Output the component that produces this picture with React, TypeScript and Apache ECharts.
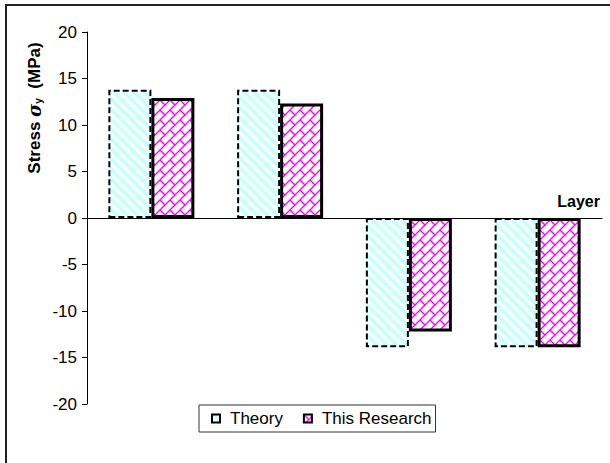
import React, { useEffect, useRef } from "react";
import * as echarts from "echarts";

const layers = ["Layer 1", "Layer 2", "Layer 3", "Layer 4"];
const theoryValues = [13.8, 13.8, -13.9, -13.9];
const researchValues = [12.9, 12.3, -12.2, -13.9];
const yMin = -20;
const yMax = 20;
const yStep = 5;

const FONT = '"Liberation Sans", Arial, sans-serif';
const TILE = 10;

function makeStripe(): HTMLCanvasElement {
  const c = document.createElement("canvas");
  c.width = TILE;
  c.height = TILE;
  const ctx = c.getContext("2d")!;
  ctx.fillStyle = "#ffffff";
  ctx.fillRect(0, 0, TILE, TILE);
  ctx.fillStyle = "#c8ffff";
  for (let y = 0; y < TILE; y++) {
    for (let x = 0; x < TILE; x++) {
      if ((((x - y) % TILE) + TILE) % TILE < 5) ctx.fillRect(x, y, 1, 1);
    }
  }
  return c;
}

function makeBrick(): HTMLCanvasElement {
  const t = TILE;
  const h = t / 2;
  const c = document.createElement("canvas");
  c.width = t;
  c.height = t;
  const ctx = c.getContext("2d")!;
  ctx.fillStyle = "#ffffff";
  ctx.fillRect(0, 0, t, t);
  ctx.strokeStyle = "#ff00ff";
  ctx.lineWidth = 1.4;
  ctx.beginPath();
  ctx.moveTo(-h, t + h);
  ctx.lineTo(t + h, -h);
  ctx.moveTo(-h, h);
  ctx.lineTo(h, -h);
  ctx.moveTo(h, t + h);
  ctx.lineTo(t + h, h);
  ctx.moveTo(0, 0);
  ctx.lineTo(h, h);
  ctx.moveTo(t, t);
  ctx.lineTo(t + h, t + h);
  ctx.stroke();
  return c;
}

export default function App() {
  const ref = useRef<HTMLDivElement>(null);
  useEffect(() => {
    if (!ref.current) return;
    const chart = echarts.init(ref.current, undefined, { renderer: "svg" });
    const stripe = makeStripe();
    const brick = makeBrick();
    const theoryFill: any = { image: stripe, repeat: "repeat", imageWidth: TILE, imageHeight: TILE };
    const brickFill: any = { image: brick, repeat: "repeat", imageWidth: TILE, imageHeight: TILE };
    chart.setOption({
      animation: false,
      backgroundColor: "#ffffff",
      grid: { left: 87, right: 8, top: 32, bottom: 59, containLabel: false },
      legend: {
        left: 199,
        top: 405,
        orient: "horizontal",
        icon: "rect",
        itemWidth: 8,
        itemHeight: 8,
        itemGap: 20,
        padding: [5, 4, 5, 12],
        borderColor: "#333",
        borderWidth: 1,
        textStyle: { fontSize: 17, fontFamily: FONT, color: "#000", padding: [0, 0, 0, 5] },
        data: ["Theory", "This Research"],
      },
      xAxis: {
        type: "category",
        data: layers,
        name: "Layer",
        nameLocation: "end",
        nameGap: -2,
        nameTextStyle: {
          fontSize: 16,
          fontWeight: "bold",
          fontFamily: FONT,
          color: "#000",
          align: "right",
          verticalAlign: "bottom",
          padding: [0, 0, 9, 0],
        },
        axisLine: { show: true, onZero: true, lineStyle: { color: "#000", width: 1 } },
        axisTick: { show: false },
        axisLabel: { show: false },
        splitLine: { show: false },
      },
      yAxis: {
        type: "value",
        min: yMin,
        max: yMax,
        interval: yStep,
        axisLine: { show: true, lineStyle: { color: "#000", width: 1 } },
        axisTick: { show: true, length: 5, inside: false, lineStyle: { color: "#000" } },
        axisLabel: { fontSize: 17, fontFamily: FONT, color: "#000", margin: 10 },
        splitLine: { show: false },
      },
      graphic: [
        {
          type: "rect",
          shape: { x: 6, y: 5, width: 640, height: 500 },
          style: { fill: "none", stroke: "#222", lineWidth: 2 },
          silent: true,
        },
        {
          type: "text",
          x: 34,
          y: 108,
          rotation: Math.PI / 2,
          style: {
            text: "{a|Stress }{s|σ}{sub|y}{a|  (MPa)}",
            align: "center",
            verticalAlign: "middle",
            rich: {
              a: { fontSize: 17, fontWeight: "bold", fontFamily: FONT, fill: "#000" },
              s: { fontSize: 18, fontWeight: "bold", fontStyle: "italic", fontFamily: '"DejaVu Serif", serif', fill: "#000" },
              sub: { fontSize: 10, fontWeight: "bold", fontFamily: FONT, fill: "#000", verticalAlign: "bottom", padding: [8, 0, 0, 0] },
            },
          },
        },
      ],
      series: [
        {
          name: "Theory",
          type: "bar",
          data: theoryValues,
          barWidth: 43,
          barGap: "0%",
          itemStyle: {
            color: theoryFill,
            borderColor: "#000",
            borderWidth: 2,
            borderType: [6, 3],
          },
        },
        {
          name: "This Research",
          type: "bar",
          data: researchValues,
          barWidth: 43,
          barGap: "0%",
          itemStyle: {
            color: brickFill,
            borderColor: "#000",
            borderWidth: 3,
          },
        },
      ],
    });
    return () => chart.dispose();
  }, []);
  return <div ref={ref} style={{ width: 610, height: 463, position: "absolute", left: 0, top: 0 }} />;
}
